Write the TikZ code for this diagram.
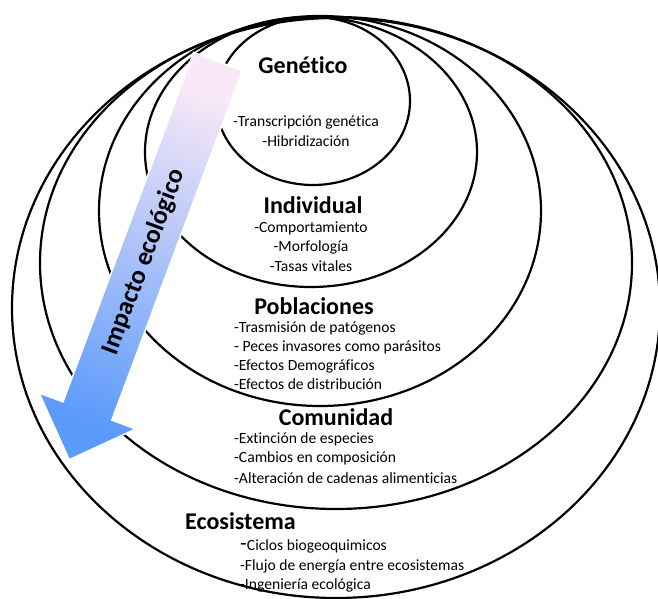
\documentclass[tikz,border=0pt]{standalone}
\usepackage{fontspec}
\setmainfont{Carlito}[Ligatures=CommonOff]
\definecolor{arrtop}{RGB}{249,232,247}
\definecolor{arrmid}{RGB}{158,199,248}
\definecolor{arrbot}{RGB}{90,154,250}
\begin{document}
\begin{tikzpicture}[x=1pt,y=-1pt,
  ring/.style={line width=2.2pt,draw=black},
  head/.style={font=\fontsize{24}{28}\selectfont\bfseries, inner sep=0pt},
  item/.style={font=\fontsize{15.6}{19}\selectfont, inner sep=0pt},
  arrowtxt/.style={font=\fontsize{26}{28}\selectfont\bfseries, inner sep=0pt, rotate=69.5}]
\useasboundingbox (0,0) rectangle (658,599);
% nested ellipses
\draw[ring] (336,308) ellipse [x radius=324, y radius=290];
\draw[ring] (336,263) ellipse [x radius=296, y radius=246];
\draw[ring] (320,211) ellipse [x radius=221, y radius=195];
\draw[ring] (311,152) ellipse [x radius=166, y radius=135];
\draw[ring] (313,101) ellipse [x radius=97, y radius=84];
% arrow
\shade[top color=arrtop, middle color=arrmid, bottom color=arrbot, shading angle=-20.5, draw=white, line width=1.5pt]
  (193.6,52.4) -- (242.4,70.6) -- (111.8,420.1) -- (135.7,429.0) -- (69.2,459.7) -- (39.1,393.0) -- (63.0,401.9) -- cycle;
\node[arrowtxt] (imp) at (144,262) {Impacto ecológico};
% Genetico
\node[head] (gen) at (303,65) {Genético};
\node[item] (gen1) at (306,122) {-Transcripción genética};
\node[item] (gen2) at (306,141) {-Hibridización};
% Individual
\node[head] (ind) at (313,205) {Individual};
\node[item] (ind1) at (311,228) {-Comportamiento};
\node[item] (ind2) at (311,247) {-Morfología};
\node[item] (ind3) at (311,266) {-Tasas vitales};
% Poblaciones
\node[head] (pob) at (314,306) {Poblaciones};
\node[item,anchor=west] (pob1) at (234,328) {-Trasmisión de patógenos};
\node[item,anchor=west] (pob2) at (234,347) {- Peces invasores como parásitos};
\node[item,anchor=west] (pob3) at (234,366) {-Efectos Demográficos};
\node[item,anchor=west] (pob4) at (234,384) {-Efectos de distribución};
% Comunidad
\node[head] (com) at (336,417) {Comunidad};
\node[item,anchor=west] (com1) at (234,439) {-Extinción de especies};
\node[item,anchor=west] (com2) at (234,458) {-Cambios en composición};
\node[item,anchor=west] (com3) at (234,478) {-Alteración de cadenas alimenticias};
% Ecosistema
\node[head,anchor=west] (eco) at (185,521) {Ecosistema};
\node[item,anchor=west] (eco1) at (240,546) {{\fontsize{22}{19}\selectfont -}Ciclos biogeoquimicos};
\node[item,anchor=west] (eco2) at (240,566) {-Flujo de energía entre ecosistemas};
\node[item,anchor=west] (eco3) at (240,585) {-Ingeniería ecológica};
\end{tikzpicture}
\end{document}
